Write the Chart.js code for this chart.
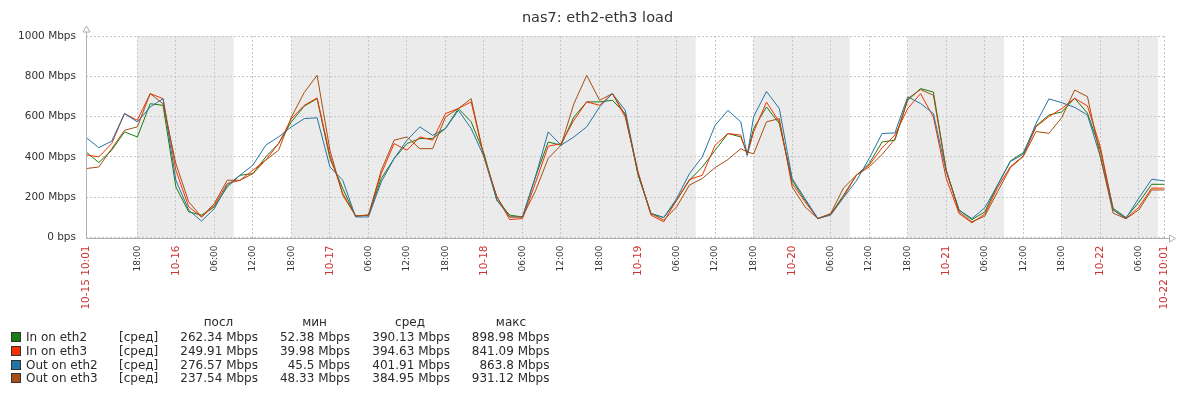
<!DOCTYPE html>
<html>
<head>
<meta charset="utf-8">
<script src="https://cdn.jsdelivr.net/npm/chart.js@4/dist/chart.umd.min.js"></script>
<style>
  body { margin: 0; background: #fff; }
  #wrap { position: relative; width: 1195px; height: 397px; font-family: "DejaVu Sans", sans-serif; color: #2a2a2a; }
  #myChart { position: absolute; left: 0; top: 0; }
  .lg { position: absolute; font-size: 12px; line-height: 14px; white-space: nowrap; }
  .sw { position: absolute; width: 8px; height: 8px; border: 1px solid #333; }
</style>
</head>
<body>
<div id="wrap">
  <canvas id="myChart" width="1195" height="397"></canvas>
  <div id="legend"></div>
</div>
<script>
// hours since 10-15 10:01, mostly one sample every 2 hours
const hours = [
    0, 2, 4, 6, 8, 10, 12, 14, 16, 18, 20, 22, 24, 26, 28, 30, 32, 34, 36, 38,
    40, 42, 44, 46, 48, 50, 52, 54, 56, 58, 60, 62, 64, 66, 68, 70, 72, 74, 76, 78,
    80, 82, 84, 86, 88, 90, 92, 94, 96, 98, 100, 102, 103, 104, 106, 108, 110, 112, 114, 116, 118,
    120, 122, 124, 126, 128, 130, 132, 134, 136, 138, 140, 142, 144, 146, 148, 150, 152, 154, 156, 158,
    160, 162, 164, 166, 168
];
// Mbps
const inEth2 = [
    425, 372, 433, 524, 499, 664, 656, 251, 127, 111,
    152, 251, 309, 317, 400, 466, 574, 652, 689, 392,
    243, 106, 111, 293, 392, 466, 491, 491, 541, 640,
    574, 417, 185, 111, 102, 300, 474, 458, 598, 673,
    673, 681, 615, 309, 119, 99, 185, 284, 350, 433,
    516, 499, 417, 541, 648, 565, 284, 185, 94, 116, 210,
    309, 367, 474, 483, 681, 739, 722, 334, 136, 89,
    127, 260, 380, 421, 554, 608, 623, 691, 617, 435,
    145, 99, 174, 264, 264
];
const inEth3 = [
    410, 400, 466, 615, 582, 714, 689, 334, 152, 102,
    160, 268, 284, 334, 384, 466, 590, 656, 693, 408,
    218, 107, 111, 317, 466, 433, 499, 483, 615, 640,
    673, 400, 202, 89, 94, 270, 453, 466, 582, 673,
    656, 714, 598, 326, 111, 78, 185, 288, 309, 458,
    516, 508, 408, 524, 672, 574, 268, 177, 94, 116, 202,
    309, 359, 445, 508, 640, 714, 598, 293, 119, 73,
    116, 248, 352, 405, 550, 600, 640, 691, 653, 451,
    137, 93, 150, 245, 245
];
const outEth2 = [
    496, 446, 478, 615, 574, 648, 689, 284, 136, 81,
    144, 260, 309, 359, 458, 499, 549, 590, 594, 350,
    284, 102, 102, 276, 392, 483, 549, 507, 541, 631,
    541, 400, 185, 102, 102, 300, 524, 458, 499, 549,
    648, 714, 631, 317, 119, 99, 193, 317, 400, 557,
    631, 574, 408, 600, 725, 640, 293, 193, 94, 111, 198,
    281, 392, 516, 519, 698, 665, 615, 326, 136, 94,
    147, 260, 377, 413, 567, 688, 669, 646, 608, 402,
    137, 96, 195, 289, 281
];
const outEth3 = [
    342, 350, 441, 532, 549, 714, 664, 367, 177, 102,
    169, 284, 284, 317, 384, 433, 598, 720, 805, 433,
    210, 107, 111, 334, 483, 499, 441, 441, 598, 640,
    689, 400, 202, 102, 102, 230, 393, 458, 664, 805,
    681, 714, 607, 317, 119, 86, 152, 260, 293, 347,
    387, 441, 425, 415, 574, 590, 251, 152, 94, 119, 246,
    309, 350, 412, 488, 689, 734, 706, 334, 127, 78,
    106, 227, 347, 402, 526, 517, 595, 732, 699, 402,
    121, 93, 137, 236, 236
];

// x tick labels: first/last are the period bounds, then every 6h from 10-15 18:00
const tickLabels = [
    "10-15 10:01",
    "18:00", "10-16", "06:00", "12:00",
    "18:00", "10-17", "06:00", "12:00",
    "18:00", "10-18", "06:00", "12:00",
    "18:00", "10-19", "06:00", "12:00",
    "18:00", "10-20", "06:00", "12:00",
    "18:00", "10-21", "06:00", "12:00",
    "18:00", "10-22", "06:00",
    "10-22 10:01"
];
const firstTick = 7 + 59 / 60; // 18:00 is 7h59m after 10:01
const tickHours = tickLabels.map((t, i) => i === 0 ? 0 : (i === tickLabels.length - 1 ? 168 : firstTick + 6 * (i - 1)));
const redTick = tickLabels.map(t => t.indexOf(":") < 0 || t.length > 5);

// non-working time (grey bands), hours since start
const offStart = [7.98, 31.98, 103.98, 127.98, 151.98];
const offEnd = [22.98, 94.98, 118.98, 142.98, 166.98];

// legend
const legendNames = ["In on eth2", "In on eth3", "Out on eth2", "Out on eth3"];
const legendColors = ["#1A7C11", "#F63100", "#2774A4", "#A54F10"];
const legendHeads = ["посл", "мин", "сред", "макс"];
const lastVals = ["262.34 Mbps", "249.91 Mbps", "276.57 Mbps", "237.54 Mbps"];
const minVals = ["52.38 Mbps", "39.98 Mbps", "45.5 Mbps", "48.33 Mbps"];
const avgVals = ["390.13 Mbps", "394.63 Mbps", "401.91 Mbps", "384.95 Mbps"];
const maxVals = ["898.98 Mbps", "841.09 Mbps", "863.8 Mbps", "931.12 Mbps"];

const FONT = "'DejaVu Sans', sans-serif";
const series = [inEth2, inEth3, outEth2, outEth3];

function points(vals) {
    return vals.map((v, i) => ({ x: hours[i], y: v }));
}

const zbxDecor = {
    id: 'zbxDecor',
    beforeDraw(chart) {
        const { ctx, chartArea: a, scales: { x } } = chart;
        ctx.save();
        ctx.fillStyle = '#ebebeb';
        offStart.forEach((s, i) => {
            const x0 = x.getPixelForValue(s);
            const x1 = x.getPixelForValue(offEnd[i]);
            ctx.fillRect(x0, a.top, x1 - x0, a.bottom - a.top);
        });
        ctx.restore();
    },
    afterDraw(chart) {
        const { ctx, chartArea: a } = chart;
        const l = Math.round(a.left) + 0.5, b = Math.round(a.bottom) + 0.5;
        ctx.save();
        ctx.strokeStyle = '#a9b1b9';
        ctx.lineWidth = 1;
        ctx.beginPath();
        ctx.moveTo(l, b); ctx.lineTo(l, a.top - 6);
        ctx.moveTo(l, b); ctx.lineTo(a.right + 5, b);
        ctx.stroke();
        // arrows
        ctx.beginPath();
        ctx.moveTo(l - 3.5, a.top - 4); ctx.lineTo(l, a.top - 10); ctx.lineTo(l + 3.5, a.top - 4); ctx.closePath();
        ctx.moveTo(a.right + 5, b - 3.5); ctx.lineTo(a.right + 11, b); ctx.lineTo(a.right + 5, b + 3.5); ctx.closePath();
        ctx.fillStyle = '#fff';
        ctx.fill();
        ctx.stroke();
        ctx.restore();
    }
};

new Chart("myChart", {
    type: "line",
    data: {
        datasets: series.map((vals, i) => ({
            label: legendNames[i],
            data: points(vals),
            borderColor: legendColors[i],
            backgroundColor: legendColors[i],
            borderWidth: 1,
            pointRadius: 0,
            tension: 0,
            fill: false,
            order: 4 - i
        }))
    },
    options: {
        responsive: false,
        animation: false,
        layout: { padding: 0 },
        plugins: {
            legend: { display: false },
            tooltip: { enabled: false },
            title: {
                display: true,
                text: "nas7: eth2-eth3 load",
                color: '#333',
                font: { family: FONT, size: 14.5, weight: 'normal' },
                padding: { top: 9.5, bottom: 9.1 }
            }
        },
        scales: {
            x: {
                type: 'linear',
                min: 0,
                max: 168,
                afterBuildTicks: (scale) => { scale.ticks = tickHours.map(v => ({ value: v })); },
                afterFit: (scale) => { scale.height = 159.5; },
                grid: { color: '#c6c6c6', drawTicks: false },
                border: { display: false, dash: [2, 2] },
                ticks: {
                    autoSkip: false,
                    maxRotation: 90,
                    minRotation: 90,
                    padding: 8,
                    callback: (value, index) => tickLabels[index],
                    color: (c) => redTick[c.index] ? '#cc3333' : '#333',
                    font: (c) => ({ family: FONT, size: redTick[c.index] ? 10.5 : 9 })
                }
            },
            y: {
                min: 0,
                max: 1000,
                afterFit: (scale) => { scale.width = 86; },
                grid: { color: '#c6c6c6', drawTicks: false },
                border: { display: false, dash: [2, 2] },
                ticks: {
                    stepSize: 200,
                    padding: 10,
                    color: '#333',
                    font: { family: FONT, size: 10.5 },
                    callback: (v) => v === 0 ? '0 bps' : v + ' Mbps'
                }
            },
            // empty right margin so the title stays centred on the page
            yr: {
                type: 'linear',
                position: 'right',
                afterFit: (scale) => { scale.width = 30.5; },
                grid: { display: false },
                border: { display: false },
                ticks: { display: false }
            }
        }
    },
    plugins: [zbxDecor]
});

// legend table below the graph
(function () {
    const box = document.getElementById('legend');
    const colRight = [258, 350, 450, 549.5];
    const headCenter = [218.5, 314.5, 410, 511];
    const cols = [lastVals, minVals, avgVals, maxVals];
    let html = '';
    legendHeads.forEach((h, j) => {
        html += '<span class="lg" style="left:' + (headCenter[j] - 50) + 'px;top:315.3px;width:100px;text-align:center">' + h + '</span>';
    });
    legendNames.forEach((n, i) => {
        const top = 329.7 + 13.9 * i;
        html += '<span class="sw" style="left:10.5px;top:' + (top + 2) + 'px;background:' + legendColors[i] + '"></span>';
        html += '<span class="lg" style="left:26px;top:' + top + 'px">' + n + '</span>';
        html += '<span class="lg" style="left:119px;top:' + top + 'px">[сред]</span>';
        cols.forEach((col, j) => {
            html += '<span class="lg" style="left:' + (colRight[j] - 100) + 'px;top:' + top + 'px;width:100px;text-align:right">' + col[i] + '</span>';
        });
    });
    box.innerHTML = html;
})();
</script>
</body>
</html>
